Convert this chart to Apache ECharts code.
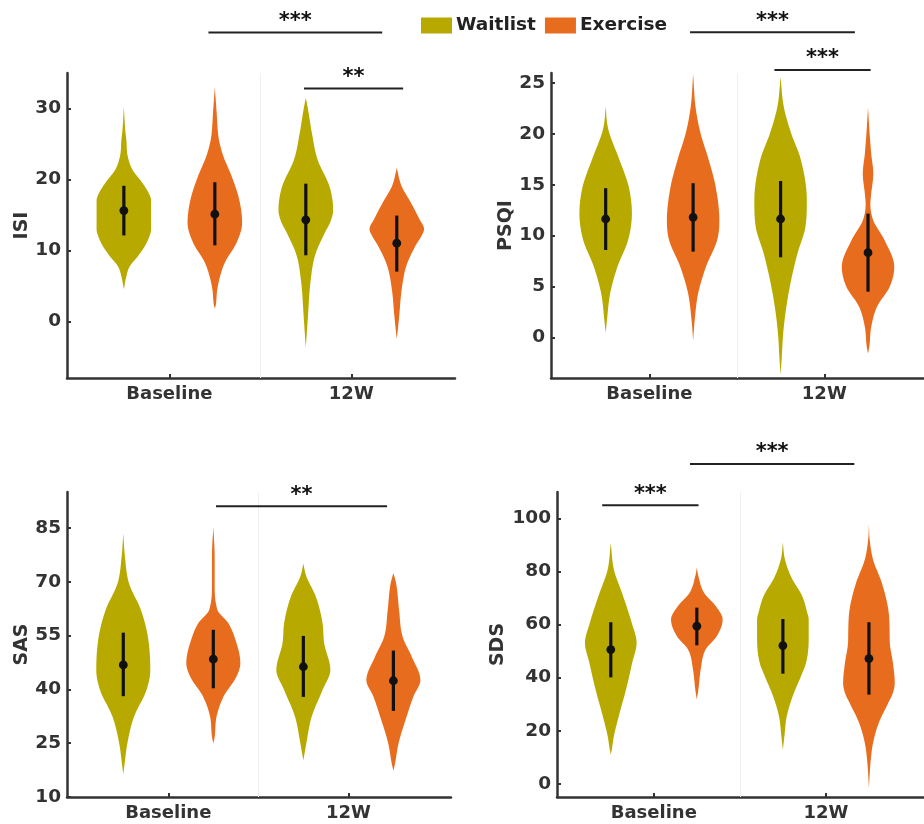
<!DOCTYPE html>
<html>
<head>
<meta charset="utf-8">
<script src="https://cdn.jsdelivr.net/npm/echarts@6/dist/echarts.min.js"></script>
<style>
html,body{margin:0;padding:0;background:#fff;}
#chart{width:924px;height:824px;}
</style>
</head>
<body>
<div id="chart"></div>
<script>
// ---------- data ----------
const CATEGORIES = ['Baseline', '12W'];
const GROUPS = ['Waitlist', 'Exercise'];
// violin positions on the x value axis: Waitlist/Exercise at Baseline, Waitlist/Exercise at 12W
const POS_WAIT = [1, 3];
const POS_EXER = [2, 4];

// density profiles: [value, relative half-width]
const ISI_WAIT_BASE = [[30.3,0],[27,0.05],[25.6,0.09],[23.3,0.14],[21.4,0.31],[19.5,0.68],[18,0.92],[17,1],[13,1],[11.8,0.92],[10.6,0.77],[9.2,0.52],[7.7,0.21],[6.3,0.09],[4.5,0]];
const ISI_EXER_BASE = [[33,0],[29.8,0.06],[25.6,0.15],[23.3,0.31],[20.4,0.62],[17.2,0.89],[13.9,1],[11.1,0.8],[8.3,0.37],[6.3,0.19],[4.5,0.09],[2.2,0.03],[1.8,0]];
const ISI_WAIT_12W  = [[31.5,0],[29.9,0.08],[26.6,0.22],[22.8,0.43],[19.1,0.86],[17,0.98],[15.6,1],[14,0.9],[12.5,0.7],[9.3,0.34],[5.5,0.17],[0.8,0.08],[-1.5,0.04],[-3.7,0]];
const ISI_EXER_12W  = [[21.6,0],[19.1,0.17],[16.7,0.52],[14.4,0.83],[13,1],[12,0.9],[10.6,0.68],[7.8,0.35],[4.5,0.18],[0.8,0.09],[-1.5,0.03],[-2.5,0]];

const PSQI_WAIT_BASE = [[22.7,0],[21,0.06],[20.1,0.14],[17.5,0.52],[14.8,0.88],[12.2,1],[9.6,0.86],[6.95,0.45],[4.3,0.17],[1.7,0.05],[0.45,0]];
const PSQI_EXER_BASE = [[25.9,0],[22.7,0.09],[20.1,0.28],[17.5,0.59],[14.8,0.86],[11.5,1],[9.6,0.92],[6.95,0.49],[4.3,0.19],[1.7,0.06],[-0.3,0]];
const PSQI_WAIT_12W  = [[25.6,0],[22.7,0.12],[20.1,0.4],[17.5,0.77],[13.5,1],[10.9,0.95],[8.3,0.65],[5.6,0.4],[3.0,0.22],[0.4,0.1],[-2.2,0.04],[-3.7,0]];
const PSQI_EXER_12W  = [[22.6,0],[20.1,0.06],[18.1,0.12],[16.1,0.2],[14.1,0.12],[13.1,0.09],[11.5,0.2],[9.6,0.62],[6.95,1],[5.0,0.83],[3.0,0.34],[1.0,0.12],[-0.9,0.05],[-1.6,0]];

const SAS_WAIT_BASE = [[83.4,0],[77.1,0.06],[69.6,0.21],[62.2,0.65],[54.7,0.91],[45.4,1],[39.8,0.86],[32.4,0.4],[24.9,0.15],[19.3,0.05],[16.3,0]];
const SAS_EXER_BASE = [[85.4,0],[77.1,0.05],[69.6,0.05],[62.2,0.15],[58.5,0.55],[54.7,0.78],[47.3,1],[43.6,0.86],[38,0.38],[32.4,0.12],[26.8,0.05],[24.9,0]];
const SAS_WAIT_12W  = [[75,0],[71.5,0.11],[65.9,0.46],[58.5,0.71],[52.9,0.77],[45.4,1],[39.8,0.71],[32.4,0.31],[24.9,0.11],[20.2,0]];
const SAS_EXER_12W  = [[72.4,0],[69.6,0.1],[62.2,0.21],[54.7,0.34],[49.1,0.68],[42.6,1],[38,0.74],[32.4,0.49],[24.9,0.19],[19.3,0.06],[17.3,0]];

const SDS_WAIT_BASE = [[90.8,0],[80.8,0.12],[70.7,0.48],[60.7,0.81],[53.1,1],[45.6,0.83],[35.5,0.59],[25.5,0.31],[17.9,0.12],[12.9,0.04],[10.9,0]];
const SDS_EXER_BASE = [[81.4,0],[78.3,0.06],[72,0.28],[66.9,0.74],[61.9,1],[55.6,0.77],[50.6,0.34],[43.1,0.15],[35.5,0.06],[31.7,0]];
const SDS_WAIT_12W  = [[91,0],[85,0.07],[78.2,0.31],[70.7,0.75],[65,0.93],[61.9,1],[55,1],[49.4,0.97],[45,0.88],[40.5,0.7],[33,0.38],[25.4,0.15],[18,0.06],[12.8,0]];
const SDS_EXER_12W  = [[97.7,0],[92,0.03],[84.5,0.16],[75.7,0.5],[65.7,0.75],[58,0.8],[53.1,0.81],[45.5,0.93],[38,1],[34,0.92],[30.5,0.75],[22.9,0.38],[15.4,0.16],[7.8,0.06],[-1.6,0]];

// means and error bars, order: Waitlist-Baseline, Exercise-Baseline, Waitlist-12W, Exercise-12W
const ISI_MEAN  = [15.6, 15.1, 14.3, 11.0];
const ISI_LOW   = [12.1, 10.7, 9.3, 7.0];
const ISI_HIGH  = [19.1, 19.6, 19.4, 14.9];
const PSQI_MEAN = [11.64, 11.81, 11.64, 8.33];
const PSQI_LOW  = [8.59, 8.43, 7.87, 4.49];
const PSQI_HIGH = [14.67, 15.16, 15.38, 12.17];
const SAS_MEAN  = [46.8, 48.4, 46.3, 42.4];
const SAS_LOW   = [38.1, 40.3, 37.9, 34.0];
const SAS_HIGH  = [55.8, 56.6, 54.9, 50.8];
const SDS_MEAN  = [50.6, 59.4, 52.1, 47.2];
const SDS_LOW   = [40.1, 52.2, 41.5, 33.6];
const SDS_HIGH  = [60.9, 66.4, 62.1, 60.9];

// significance brackets: [from x, to x, y value, stars]
const ISI_SIG  = [[1.93, 3.84, 40.7, '***'], [2.98, 4.07, 32.8, '**']];
const PSQI_SIG = [[1.965, 3.85, 30.0, '***'], [2.93, 4.03, 26.3, '***']];
const SAS_SIG  = [[2.03, 3.93, 91.0, '**']];
const SDS_SIG  = [[0.90, 2.02, 105, '***'], [1.92, 3.83, 120.6, '***']];

// axis ticks
const ISI_TICKS  = [0, 10, 20, 30];
const PSQI_TICKS = [0, 5, 10, 15, 20, 25];
const SAS_TICKS  = [10, 25, 40, 55, 70, 85];
const SDS_TICKS  = [0, 20, 40, 60, 80, 100];

// ---------- chart ----------
const FONT = 'DejaVu Sans';
const C_WAIT = '#B8A900';
const C_EXER = '#E86C1E';
const HALF = 0.3;
const GROUP_POS = CATEGORIES.map((c, i) => (POS_WAIT[i] + POS_EXER[i]) / 2);

const panels = [
  {name:'ISI',  min:-8, max:35, ticks:ISI_TICKS,  gap:35, grid:{left:67,  top:73,  width:388, height:305},
   prof:[ISI_WAIT_BASE, ISI_EXER_BASE, ISI_WAIT_12W, ISI_EXER_12W], mean:ISI_MEAN, low:ISI_LOW, high:ISI_HIGH, sig:ISI_SIG},
  {name:'PSQI', min:-4, max:26, ticks:PSQI_TICKS, gap:35, grid:{left:551, top:73,  width:389, height:305},
   prof:[PSQI_WAIT_BASE, PSQI_EXER_BASE, PSQI_WAIT_12W, PSQI_EXER_12W], mean:PSQI_MEAN, low:PSQI_LOW, high:PSQI_HIGH, sig:PSQI_SIG},
  {name:'SAS',  min:10, max:95, ticks:SAS_TICKS,  gap:35, grid:{left:67,  top:492, width:384, height:305},
   prof:[SAS_WAIT_BASE, SAS_EXER_BASE, SAS_WAIT_12W, SAS_EXER_12W], mean:SAS_MEAN, low:SAS_LOW, high:SAS_HIGH, sig:SAS_SIG},
  {name:'SDS',  min:-5, max:110, ticks:SDS_TICKS, gap:49, grid:{left:557, top:492, width:383, height:305},
   prof:[SDS_WAIT_BASE, SDS_EXER_BASE, SDS_WAIT_12W, SDS_EXER_12W], mean:SDS_MEAN, low:SDS_LOW, high:SDS_HIGH, sig:SDS_SIG}
];

// monotone cubic (Fritsch-Carlson) resampling of a profile, for a smooth outline
function smoothProfile(prof) {
  const pts = prof.slice().sort((a, b) => a[0] - b[0]);
  const n = pts.length;
  const xs = pts.map(p => p[0]), ys = pts.map(p => p[1]);
  const d = [], m = new Array(n);
  for (let i = 0; i < n - 1; i++) d.push((ys[i + 1] - ys[i]) / (xs[i + 1] - xs[i]));
  m[0] = d[0]; m[n - 1] = d[n - 2];
  for (let i = 1; i < n - 1; i++) m[i] = (d[i - 1] * d[i] <= 0) ? 0 : (d[i - 1] + d[i]) / 2;
  for (let i = 0; i < n - 1; i++) {
    if (d[i] === 0) { m[i] = 0; m[i + 1] = 0; continue; }
    const a = m[i] / d[i], b = m[i + 1] / d[i], s = a * a + b * b;
    if (s > 9) { const t = 3 / Math.sqrt(s); m[i] = t * a * d[i]; m[i + 1] = t * b * d[i]; }
  }
  const out = [];
  for (let i = 0; i < n - 1; i++) {
    const h = xs[i + 1] - xs[i];
    const steps = 12;
    for (let k = 0; k < steps; k++) {
      const t = k / steps, t2 = t * t, t3 = t2 * t;
      const y = (2 * t3 - 3 * t2 + 1) * ys[i] + (t3 - 2 * t2 + t) * h * m[i] + (-2 * t3 + 3 * t2) * ys[i + 1] + (t3 - t2) * h * m[i + 1];
      out.push([xs[i] + t * h, Math.max(0, y)]);
    }
  }
  out.push([xs[n - 1], ys[n - 1]]);
  return out;
}

function violinRender(profiles) {
  const smooth = profiles.map(smoothProfile);
  return function (params, api) {
    const x = api.value(0);
    const prof = smooth[params.dataIndex];
    const right = prof.map(p => api.coord([x + p[1] * HALF, p[0]]));
    const left = prof.slice().reverse().map(p => api.coord([x - p[1] * HALF, p[0]]));
    return {
      type: 'polygon',
      shape: { points: right.concat(left) },
      style: { fill: api.visual('color') }
    };
  };
}

function errRender(params, api) {
  const x = api.value(0);
  const m = api.coord([x, api.value(1)]);
  const lo = api.coord([x, api.value(2)]);
  const hi = api.coord([x, api.value(3)]);
  return {
    type: 'group',
    children: [
      { type: 'line', shape: { x1: lo[0], y1: lo[1], x2: hi[0], y2: hi[1] }, style: { stroke: '#111', lineWidth: 3.2 } },
      { type: 'circle', shape: { cx: m[0], cy: m[1], r: 4.4 }, style: { fill: '#111' } }
    ]
  };
}

function sigRender(sig) {
  return function (params, api) {
    const s = sig[params.dataIndex];
    const a = api.coord([s[0], s[2]]);
    const b = api.coord([s[1], s[2]]);
    return {
      type: 'group',
      children: [
        { type: 'line', shape: { x1: a[0], y1: a[1], x2: b[0], y2: b[1] }, style: { stroke: '#222', lineWidth: 2 } },
        { type: 'text', x: (a[0] + b[0]) / 2, y: a[1] - 11,
          style: { text: s[3], font: 'bold 21px "DejaVu Sans"', fill: '#111', align: 'center', verticalAlign: 'middle' } }
      ]
    };
  };
}

const grids = [], xAxes = [], yAxes = [], series = [];
panels.forEach((p, i) => {
  grids.push(Object.assign({ containLabel: false }, p.grid));
  xAxes.push({
    type: 'value', gridIndex: i, min: 0.375, max: 4.64,
    axisLine: { show: true, onZero: false, lineStyle: { color: '#333', width: 2.5 } },
    axisTick: { show: true, inside: true, length: 4, customValues: GROUP_POS, lineStyle: { color: '#333', width: 2 } },
    axisLabel: { show: true, customValues: GROUP_POS, margin: 7,
      formatter: v => CATEGORIES[GROUP_POS.indexOf(v)] || '',
      fontFamily: FONT, fontWeight: 'bold', fontSize: 18, color: '#333' },
    splitLine: { show: false }
  });
  yAxes.push({
    type: 'value', gridIndex: i, min: p.min, max: p.max,
    name: p.name, nameLocation: 'middle', nameGap: p.gap, nameRotate: 90,
    nameTextStyle: { fontFamily: FONT, fontWeight: 'bold', fontSize: 19, color: '#333' },
    axisLine: { show: true, onZero: false, lineStyle: { color: '#333', width: 2.5 } },
    axisTick: { show: true, inside: true, length: 4, customValues: p.ticks, lineStyle: { color: '#333', width: 2 } },
    axisLabel: { show: true, customValues: p.ticks, margin: 6,
      fontFamily: FONT, fontWeight: 'bold', fontSize: 18.5, color: '#333' },
    splitLine: { show: false }
  });
  series.push({
    name: GROUPS[0], type: 'custom', xAxisIndex: i, yAxisIndex: i, z: 2, clip: false,
    itemStyle: { color: C_WAIT },
    renderItem: violinRender([p.prof[0], p.prof[2]]),
    data: POS_WAIT.map(x => [x])
  });
  series.push({
    name: GROUPS[1], type: 'custom', xAxisIndex: i, yAxisIndex: i, z: 2, clip: false,
    itemStyle: { color: C_EXER },
    renderItem: violinRender([p.prof[1], p.prof[3]]),
    data: POS_EXER.map(x => [x])
  });
  const pos = [POS_WAIT[0], POS_EXER[0], POS_WAIT[1], POS_EXER[1]];
  series.push({
    name: 'err' + i, type: 'custom', xAxisIndex: i, yAxisIndex: i, z: 4, clip: false,
    renderItem: errRender,
    data: pos.map((x, k) => [x, p.mean[k], p.low[k], p.high[k]]),
    markLine: { silent: true, symbol: 'none', label: { show: false }, z: 1,
      lineStyle: { color: '#f0f0f0', width: 1, type: 'solid' },
      data: [{ xAxis: (POS_EXER[0] + POS_WAIT[1]) / 2 }] }
  });
  series.push({
    name: 'sig' + i, type: 'custom', xAxisIndex: i, yAxisIndex: i, z: 5, clip: false,
    renderItem: sigRender(p.sig),
    data: p.sig.map(s => [s[0], s[2]])
  });
});

const chart = echarts.init(document.getElementById('chart'), null, { renderer: 'canvas' });
chart.setOption({
  animation: false,
  backgroundColor: '#fff',
  legend: {
    data: GROUPS, left: 421, top: 16, padding: 0, icon: 'rect', itemWidth: 31, itemHeight: 16, itemGap: 9,
    textStyle: { fontFamily: FONT, fontWeight: 'bold', fontSize: 18.5, color: '#222', padding: [0, 0, 0, -1] }
  },
  grid: grids, xAxis: xAxes, yAxis: yAxes, series: series
});
</script>
</body>
</html>
